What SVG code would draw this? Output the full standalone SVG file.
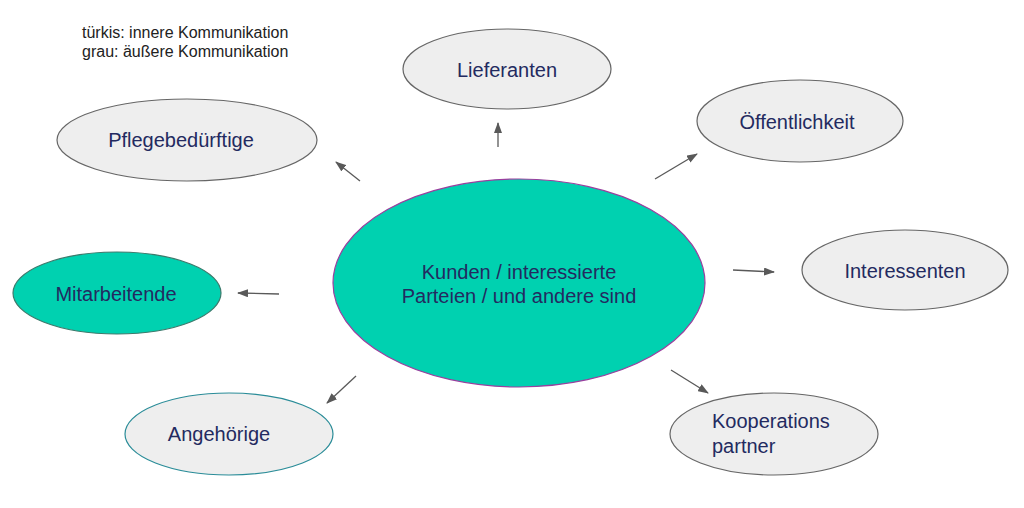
<svg xmlns="http://www.w3.org/2000/svg" width="1024" height="508" viewBox="0 0 1024 508">
<style>
.bg{fill:#ffffff}
.grey{fill:#eeeeee;stroke:#666666;stroke-width:1.2}
.lbl{font-family:"Liberation Sans",Arial,sans-serif;font-size:20px;fill:#232a60;text-anchor:middle}
.legend{font-family:"Liberation Sans",Arial,sans-serif;font-size:16px;fill:#222222}
.conn line{stroke:#595959;stroke-width:1.3;marker-end:url(#ah)}
</style>
<defs>
<marker id="ah" markerUnits="userSpaceOnUse" markerWidth="11" markerHeight="8" refX="10" refY="4" orient="auto">
<path d="M0,0 L11,4 L0,8 z" fill="#595959"/>
</marker>
</defs>
<rect class="bg" x="0" y="0" width="1024" height="508"/>
<g id="legend">
<text class="legend" x="82" y="38">türkis: innere Kommunikation</text>
<text class="legend" x="82" y="57">grau: äußere Kommunikation</text>
</g>
<g id="center">
<ellipse cx="519" cy="283" rx="186" ry="104" fill="#00d1b0" stroke="#9a3f9e" stroke-width="1.2"/>
<text class="lbl" x="519" y="279">Kunden / interessierte</text>
<text class="lbl" x="519" y="303">Parteien / und andere sind</text>
</g>
<g id="pflegebeduerftige">
<ellipse class="grey" cx="187" cy="140" rx="130" ry="41"/>
<text class="lbl" x="181" y="147">Pflegebedürftige</text>
</g>
<g id="lieferanten">
<ellipse class="grey" cx="507" cy="69" rx="104" ry="40"/>
<text class="lbl" x="507" y="77">Lieferanten</text>
</g>
<g id="oeffentlichkeit">
<ellipse class="grey" cx="800" cy="121" rx="103" ry="41"/>
<text class="lbl" x="797" y="129">Öffentlichkeit</text>
</g>
<g id="interessenten">
<ellipse class="grey" cx="905" cy="270" rx="103" ry="40"/>
<text class="lbl" x="905" y="278">Interessenten</text>
</g>
<g id="kooperationspartner">
<ellipse class="grey" cx="774" cy="434" rx="104" ry="41"/>
<text class="lbl" x="712" y="428" style="text-anchor:start">Kooperations</text>
<text class="lbl" x="712" y="453" style="text-anchor:start">partner</text>
</g>
<g id="mitarbeitende">
<ellipse cx="117" cy="293" rx="104" ry="41" fill="#00d1b0" stroke="#3d7a6c" stroke-width="1.2"/>
<text class="lbl" x="116" y="301">Mitarbeitende</text>
</g>
<g id="angehoerige">
<ellipse cx="229" cy="434" rx="104" ry="41" fill="#eeeeee" stroke="#2a8c98" stroke-width="1.2"/>
<text class="lbl" x="219" y="441">Angehörige</text>
</g>
<g id="connectors" class="conn">
<line x1="360" y1="181" x2="336" y2="162"/>
<line x1="498" y1="147" x2="498" y2="123"/>
<line x1="655" y1="179" x2="697" y2="154"/>
<line x1="733" y1="270" x2="774" y2="272"/>
<line x1="671" y1="370" x2="708" y2="393"/>
<line x1="279" y1="294" x2="238" y2="293"/>
<line x1="356" y1="376" x2="327" y2="403"/>
</g>
</svg>
